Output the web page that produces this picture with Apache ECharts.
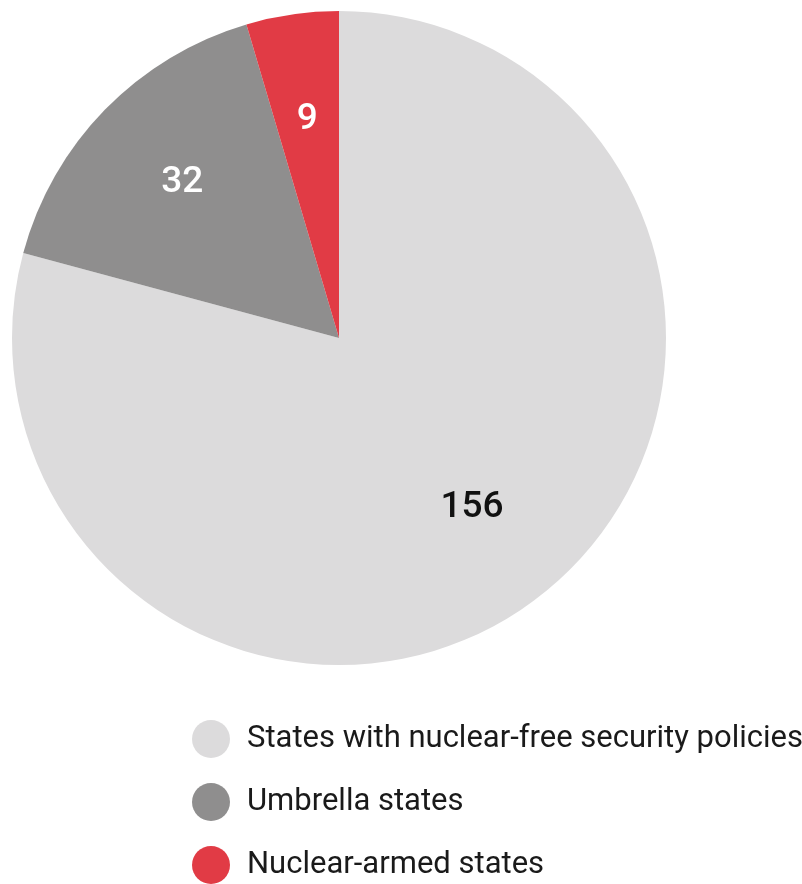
<!DOCTYPE html>
<html>
<head>
<meta charset="utf-8">
<script src="https://cdn.jsdelivr.net/npm/echarts@6/dist/echarts.min.js"></script>
<style>
  html, body { margin: 0; padding: 0; background: #ffffff; }
  #chart { width: 802px; height: 884px; }
</style>
</head>
<body>
<div id="chart"></div>
<script>
// State categories and counts
const categories = [
  'States with nuclear-free security policies',
  'Umbrella states',
  'Nuclear-armed states'
];
const counts = [156, 32, 9];
const sliceColors = ['#dcdbdc', '#8f8e8e', '#e13b45'];
const labelColors = ['#111111', '#ffffff', '#ffffff'];
const labelShifts = [[-2, -6], [2, 0], [0, 1]];

const pieData = categories.map((name, i) => ({
  name: name,
  value: counts[i],
  itemStyle: { color: sliceColors[i] }
}));

// Transparent copy of the ring, used only to place value labels further out
const labelData = categories.map((name, i) => ({
  name: name,
  value: counts[i],
  itemStyle: { color: 'rgba(0,0,0,0)' },
  label: { color: labelColors[i], offset: labelShifts[i] }
}));

const chart = echarts.init(document.getElementById('chart'), null, { renderer: 'canvas' });

chart.setOption({
  animation: false,
  backgroundColor: '#ffffff',
  legend: {
    orient: 'vertical',
    left: 192,
    top: 720,
    height: 200,
    padding: 0,
    icon: 'circle',
    itemWidth: 38,
    itemHeight: 38,
    itemGap: 25,
    selectedMode: false,
    data: categories,
    textStyle: {
      fontFamily: 'Roboto',
      fontSize: 31,
      color: '#1a1a1a',
      padding: [3, 0, 0, 12]
    }
  },
  series: [
    {
      type: 'pie',
      center: [339, 338],
      radius: [0, 327],
      startAngle: 90,
      clockwise: true,
      silent: true,
      label: { show: false },
      labelLine: { show: false },
      data: pieData
    },
    {
      type: 'pie',
      center: [339, 338],
      radius: [111, 327],
      startAngle: 90,
      clockwise: true,
      silent: true,
      label: {
        show: true,
        position: 'inside',
        formatter: '{c}',
        fontFamily: 'Roboto',
        fontSize: 37,
        fontWeight: 500
      },
      labelLine: { show: false },
      data: labelData
    }
  ]
});
</script>
</body>
</html>
